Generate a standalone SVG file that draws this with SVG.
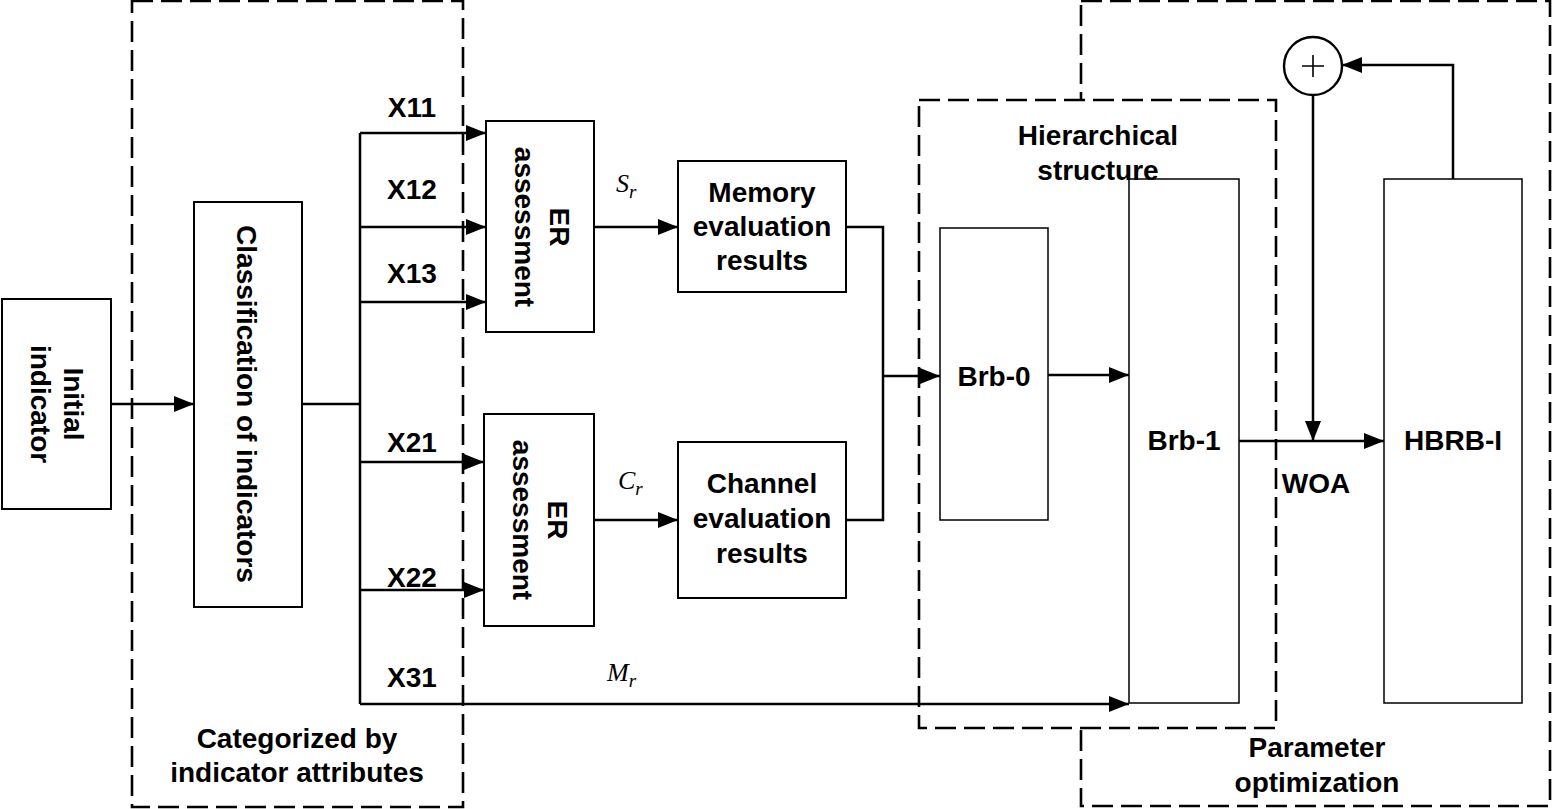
<svg xmlns="http://www.w3.org/2000/svg" width="1552" height="809" viewBox="0 0 1552 809">
<style>
.bg{fill:#fff}
.dash{fill:none;stroke:#000;stroke-width:2.6;stroke-dasharray:21 8}
.box{fill:#fff;stroke:#000;stroke-width:2}
.thin{fill:#fff;stroke:#000;stroke-width:1.5}
.ln{fill:none;stroke:#000;stroke-width:2.5}
.arr{fill:none;stroke:#000;stroke-width:2.5;marker-end:url(#ah)}
.t{font-family:"Liberation Sans",Arial,sans-serif;font-weight:bold;font-size:28px;fill:#000;text-anchor:middle}
.m{font-family:"Liberation Serif","Times New Roman",serif;font-style:italic;fill:#000}
</style>
<defs>
<marker id="ah" markerUnits="userSpaceOnUse" markerWidth="20" markerHeight="16" refX="20" refY="8" orient="auto">
<path d="M0,0 L20,8 L0,16 z" fill="#000"/>
</marker>
</defs>
<rect class="bg" x="0" y="0" width="1552" height="809"/>

<g id="group-categorized">
<rect class="dash" x="132" y="1" width="331" height="806"/>
<text class="t" x="297" y="748">Categorized by</text>
<text class="t" x="297" y="782">indicator attributes</text>
</g>

<g id="group-parameter">
<rect class="dash" x="1081" y="1" width="469" height="805"/>
<text class="t" x="1317" y="757">Parameter</text>
<text class="t" x="1317" y="792">optimization</text>
</g>

<g id="group-hierarchical">
<rect class="dash" x="919" y="100" width="357" height="628" style="fill:#fff"/>
</g>

<g id="initial">
<rect class="box" x="2" y="299" width="109" height="210"/>
<text class="t" transform="translate(56,404) rotate(90)"><tspan x="0" y="-8">Initial</tspan><tspan x="0" y="25">indicator</tspan></text>
</g>

<g id="classification">
<rect class="box" x="194" y="202" width="108" height="405"/>
<text class="t" transform="translate(248,404) rotate(90)" y="11">Classification of indicators</text>
</g>

<g id="er1">
<rect class="box" x="486" y="121" width="108" height="211"/>
<text class="t" transform="translate(540,227) rotate(90)"><tspan x="0" y="-10">ER</tspan><tspan x="0" y="25">assessment</tspan></text>
</g>

<g id="er2">
<rect class="box" x="484" y="414" width="110" height="212"/>
<text class="t" transform="translate(539,520) rotate(90)"><tspan x="0" y="-9">ER</tspan><tspan x="0" y="26">assessment</tspan></text>
</g>

<g id="memory">
<rect class="box" x="678" y="161" width="168" height="131"/>
<text class="t" x="762" y="202">Memory</text>
<text class="t" x="762" y="236">evaluation</text>
<text class="t" x="762" y="270">results</text>
</g>

<g id="channel">
<rect class="box" x="678" y="442" width="168" height="156"/>
<text class="t" x="762" y="493">Channel</text>
<text class="t" x="762" y="528">evaluation</text>
<text class="t" x="762" y="563">results</text>
</g>

<g id="brb0">
<rect class="thin" x="940" y="228" width="108" height="292"/>
<text class="t" x="994" y="386">Brb-0</text>
</g>

<g id="brb1">
<rect class="thin" x="1129" y="179" width="110" height="524"/>
<text class="t" x="1184" y="450">Brb-1</text>
</g>

<g id="hierarchical-label">
<text class="t" x="1098" y="145">Hierarchical</text>
<text class="t" x="1098" y="180">structure</text>
</g>

<g id="hbrb">
<rect class="thin" x="1384" y="179" width="138" height="524"/>
<text class="t" x="1453" y="450">HBRB-I</text>
</g>

<g id="plus">
<circle cx="1313" cy="66" r="29" fill="#fff" stroke="#000" stroke-width="2.4"/>
<path d="M1302,66 H1324 M1313,55 V77" stroke="#000" stroke-width="1.6" fill="none"/>
</g>

<g id="connectors">
<path class="arr" d="M111,404 H194"/>
<path class="ln" d="M302,404 H360 M360,133 V704"/>
<path class="arr" d="M360,133 H486"/>
<path class="arr" d="M360,227 H486"/>
<path class="arr" d="M360,302 H486"/>
<path class="arr" d="M360,462 H484"/>
<path class="arr" d="M360,590 H484"/>
<path class="arr" d="M360,704 H1129"/>
<path class="arr" d="M594,227 H678"/>
<path class="arr" d="M594,520 H678"/>
<path class="ln" d="M846,227 H883 V520 H846"/>
<path class="arr" d="M883,376 H940"/>
<path class="arr" d="M1048,375 H1129"/>
<path class="arr" d="M1239,441 H1384"/>
<path class="arr" d="M1453,179 V65 H1342"/>
<path class="arr" d="M1313,95 V441"/>
</g>

<g id="labels">
<text class="t" x="412" y="117">X11</text>
<text class="t" x="412" y="199">X12</text>
<text class="t" x="412" y="283">X13</text>
<text class="t" x="412" y="452">X21</text>
<text class="t" x="412" y="587">X22</text>
<text class="t" x="412" y="687">X31</text>
<text class="t" x="1316" y="493">WOA</text>
<text class="m" x="616" y="192" font-size="26">S<tspan font-size="19" dy="6">r</tspan></text>
<text class="m" x="618" y="489" font-size="26">C<tspan font-size="19" dy="6">r</tspan></text>
<text class="m" x="607" y="681" font-size="26">M<tspan font-size="19" dy="6">r</tspan></text>
</g>
</svg>
